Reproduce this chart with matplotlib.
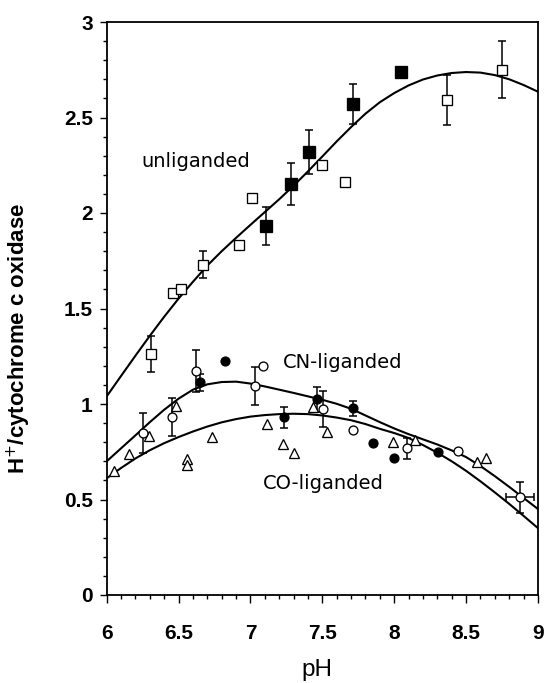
import matplotlib
matplotlib.use("Agg")
import matplotlib.pyplot as plt
from matplotlib.ticker import MultipleLocator

# unliganded enzyme, open squares and filled squares
unl_open_ph = [6.31, 6.46, 6.52, 6.67, 6.92, 7.01, 7.50, 7.66, 8.37, 8.75]
unl_open_val = [1.26, 1.58, 1.60, 1.73, 1.83, 2.08, 2.25, 2.16, 2.59, 2.75]
unl_open_err = [0.095, 0, 0, 0.07, 0, 0, 0, 0, 0.13, 0.15]
unl_fill_ph = [7.11, 7.28, 7.41, 7.71, 8.05]
unl_fill_val = [1.93, 2.15, 2.32, 2.57, 2.74]
unl_fill_err = [0.10, 0.11, 0.115, 0.105, 0]

# CN-liganded, open and filled circles
cn_open_ph = [6.255, 6.452, 6.621, 7.031, 7.089, 7.506, 7.711, 8.086, 8.445, 8.874]
cn_open_val = [0.847, 0.930, 1.174, 1.094, 1.199, 0.972, 0.864, 0.768, 0.756, 0.511]
cn_open_err = [0.105, 0.10, 0.11, 0.10, 0, 0.095, 0, 0.055, 0, 0.08]
cn_open_xerr = [0, 0, 0, 0, 0, 0, 0, 0, 0, 0.10]
cn_fill_ph = [6.649, 6.823, 7.233, 7.465, 7.711, 7.85, 7.998, 8.302]
cn_fill_val = [1.113, 1.227, 0.930, 1.025, 0.977, 0.797, 0.716, 0.750]
cn_fill_err = [0.045, 0, 0.055, 0.065, 0.04, 0, 0, 0]

# CO-liganded, open triangles
co_ph = [6.051, 6.157, 6.296, 6.482, 6.556, 6.556, 6.73, 7.113, 7.228, 7.302,
         7.432, 7.53, 7.993, 8.144, 8.573, 8.638]
co_val = [0.651, 0.738, 0.832, 0.990, 0.710, 0.681, 0.826, 0.895, 0.791, 0.745,
          0.983, 0.855, 0.803, 0.812, 0.698, 0.716]

# fitted curves, every 0.1 pH unit
fit_ph = [6.0, 6.1, 6.2, 6.3, 6.4, 6.5, 6.6, 6.7, 6.8, 6.9,
          7.0, 7.1, 7.2, 7.3, 7.4, 7.5, 7.6, 7.7, 7.8, 7.9,
          8.0, 8.1, 8.2, 8.3, 8.4, 8.5, 8.6, 8.7, 8.8, 8.9, 9.0]
unl_fit_val = [1.040, 1.147, 1.253, 1.357, 1.457, 1.552, 1.640, 1.725, 1.800, 1.870,
               1.938, 2.005, 2.072, 2.143, 2.218, 2.296, 2.375, 2.450, 2.520, 2.580,
               2.628, 2.668, 2.699, 2.720, 2.733, 2.738, 2.735, 2.722, 2.700, 2.670, 2.635]
cn_fit_val = [0.700, 0.768, 0.836, 0.905, 0.970, 1.028, 1.075, 1.103, 1.115, 1.117,
              1.107, 1.092, 1.075, 1.058, 1.040, 1.022, 1.001, 0.975, 0.940, 0.905,
              0.872, 0.842, 0.815, 0.788, 0.757, 0.722, 0.675, 0.622, 0.566, 0.508, 0.450]
co_fit_val = [0.611, 0.665, 0.715, 0.758, 0.795, 0.827, 0.856, 0.882, 0.904, 0.921,
              0.934, 0.942, 0.947, 0.949, 0.947, 0.940, 0.929, 0.915, 0.895, 0.870,
              0.848, 0.822, 0.785, 0.745, 0.700, 0.650, 0.595, 0.537, 0.477, 0.414, 0.350]

plt.rcParams['font.family'] = ['DejaVu Sans']
tickfont = {'family': 'Liberation Sans', 'weight': 'bold', 'size': 15}

fig = plt.figure(figsize=(5.46, 6.83), dpi=100)
ax = fig.add_axes([106.7 / 546, 1 - 595 / 683, 431.3 / 546, 573 / 683])

lw = 1.5
for vals in (unl_fit_val, cn_fit_val, co_fit_val):
    ax.plot(fit_ph, vals, color='black', lw=lw, zorder=2, solid_joinstyle='round')

ebkw = dict(fmt='none', ecolor='black', elinewidth=1.1, capsize=3, capthick=1.1, zorder=3)
ax.errorbar(unl_open_ph, unl_open_val, yerr=unl_open_err, **ebkw)
ax.errorbar(unl_fill_ph, unl_fill_val, yerr=unl_fill_err, **ebkw)
ax.errorbar(cn_open_ph, cn_open_val, yerr=cn_open_err, xerr=cn_open_xerr, **ebkw)
ax.errorbar(cn_fill_ph, cn_fill_val, yerr=cn_fill_err, **ebkw)

mkw = dict(ls='none', mec='black', mew=0.95, zorder=4)
ax.plot(unl_open_ph, unl_open_val, 's', ms=7.4, mfc='white', **mkw)
ax.plot(unl_fill_ph, unl_fill_val, 's', ms=8, mfc='black', **mkw)
ax.plot(co_ph, co_val, '^', ms=7.4, mfc='white', **mkw)
ax.plot(cn_open_ph, cn_open_val, 'o', ms=6.4, mfc='white', **mkw)
ax.plot(cn_fill_ph, cn_fill_val, 'o', ms=6.4, mfc='black', **mkw)

ax.text(6.243, 2.242, 'unliganded', fontsize=14, va='baseline', ha='left')
ax.text(7.228, 1.187, 'CN-liganded', fontsize=14, va='baseline', ha='left')
ax.text(7.083, 0.553, 'CO-liganded', fontsize=14, va='baseline', ha='left')

ax.set_xlim(6, 9)
ax.set_ylim(0, 3)
ax.xaxis.set_minor_locator(MultipleLocator(0.1))
ax.yaxis.set_minor_locator(MultipleLocator(0.1))
ax.set_xticks([6, 6.5, 7, 7.5, 8, 8.5, 9])
ax.set_xticklabels(['6', '6.5', '7', '7.5', '8', '8.5', '9'], fontdict=tickfont)
ax.set_yticks([0, 0.5, 1, 1.5, 2, 2.5, 3])
ax.set_yticklabels(['0', '0.5', '1', '1.5', '2', '2.5', '3'], fontdict=tickfont)

ax.tick_params(axis='x', which='major', direction='out', length=5.8, width=1.0, pad=15)
ax.tick_params(axis='y', which='major', direction='out', length=5.0, width=1.0, pad=5)
ax.tick_params(which='minor', direction='out', length=2.6, width=1.0)
for s in ax.spines.values():
    s.set_linewidth(1.3)

ax.set_xlabel('pH', fontsize=17.5, family='Liberation Sans')
ax.xaxis.set_label_coords(0.488, -0.112)
ax.set_ylabel('H$^{+}$/cytochrome c oxidase', fontsize=16, family='Liberation Sans',
              fontweight='bold')
ax.yaxis.set_label_coords(-0.171, 0.447)

fig.savefig('out.png', dpi=100)
